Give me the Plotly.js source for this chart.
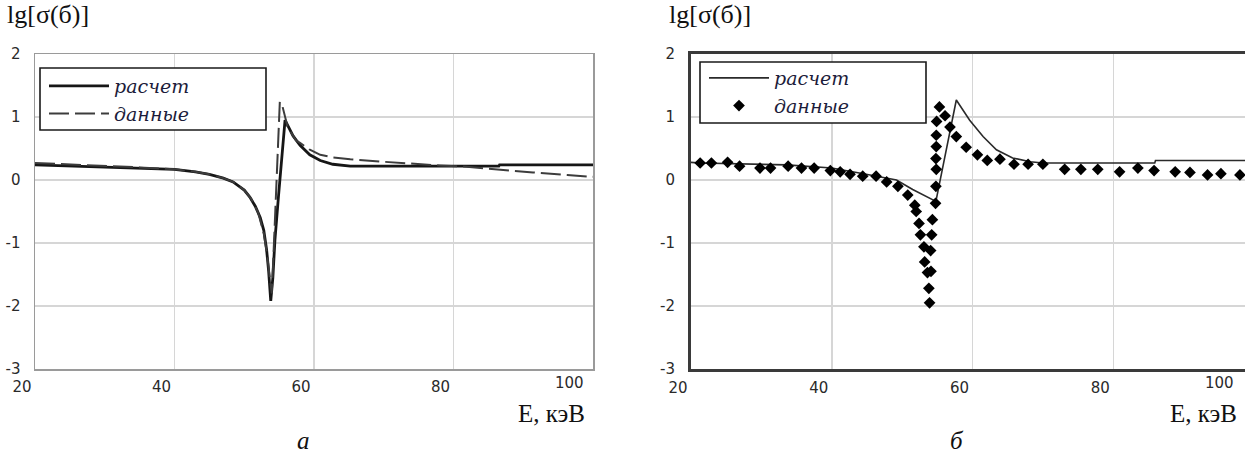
<!DOCTYPE html>
<html>
<head>
<meta charset="utf-8">
<script src="https://cdn.plot.ly/plotly-3.0.1.min.js"></script>
<style>
html,body{margin:0;padding:0;background:#fff;overflow:hidden;width:1245px;height:457px;}
#chart{width:1262px;height:457px;}
</style>
</head>
<body>
<div id="chart"></div>
<script>
// ---- Data: panel (а) ----
const calcA_E = [20,25,30,35,40,43,45,47,48.4,50,50.8,51.6,52.3,52.8,53.2,53.5,53.8,54.1,54.4,54.9,55.4,55.85,57,58,59.4,60.9,62.7,65.2,80,86.5,86.6,100];
const calcA_lg = [0.24,0.22,0.21,0.19,0.17,0.13,0.09,0.03,-0.03,-0.16,-0.27,-0.42,-0.6,-0.8,-1.1,-1.45,-1.92,-1.55,-0.95,-0.27,0.43,0.95,0.70,0.55,0.40,0.31,0.25,0.22,0.22,0.22,0.24,0.24];
const dataA_E = [20,25,30,35,40,43,45,47,48.4,50,51,52,52.8,53.3,53.7,53.95,54.3,54.7,55.1,55.5,56.2,57.4,58,59.4,60.9,62.7,65.2,69.9,74.8,78,81.9,86.7,91.4,96.3,100];
const dataA_lg = [0.27,0.25,0.23,0.20,0.17,0.13,0.09,0.03,-0.03,-0.16,-0.3,-0.52,-0.85,-1.2,-1.6,-1.8,-0.9,0.2,1.24,1.16,0.85,0.63,0.59,0.48,0.40,0.36,0.33,0.29,0.25,0.23,0.21,0.16,0.12,0.08,0.05];

// ---- Data: panel (б) ----
const calcB_E = [20,21.3,33.6,40,44.5,47,49.2,51.5,53.9,54.8,57.7,59.6,61.5,63.4,65.7,68.2,70,85.9,86.0,100];
const calcB_lg = [0.28,0.27,0.24,0.19,0.10,0.05,0.0,-0.15,-0.29,-0.34,1.27,0.95,0.69,0.48,0.35,0.29,0.27,0.27,0.31,0.31];
const dataB_E = [21.3,22.9,25.2,26.9,29.8,31.3,33.8,35.7,37.5,39.8,41.2,42.6,44.4,46.3,47.8,49.4,50.8,51.8,52.0,52.4,52.6,53.1,53.2,53.6,53.8,53.9,
  54.1,54.05,54.2,54.3,54.75,54.8,54.85,54.8,54.85,54.85,54.9,55.3,56.1,56.8,57.7,59.1,60.7,62.1,63.9,65.9,67.9,70.0,73.1,75.4,77.8,80.9,83.5,85.8,88.8,90.9,93.4,95.3,98.0];
const dataB_lg = [0.27,0.27,0.28,0.22,0.19,0.19,0.22,0.19,0.19,0.15,0.13,0.09,0.06,0.06,-0.03,-0.1,-0.24,-0.4,-0.5,-0.69,-0.87,-1.06,-1.3,-1.47,-1.72,-1.95,
  -1.45,-1.12,-0.87,-0.63,-0.37,-0.1,0.17,0.34,0.53,0.71,0.93,1.16,1.02,0.84,0.69,0.52,0.40,0.31,0.33,0.25,0.25,0.25,0.17,0.17,0.17,0.13,0.19,0.15,0.13,0.12,0.08,0.10,0.08];

const xGrid = [20,40,60,80,100];
const xTicks = [20,40,60,80];      // last label (100) is placed as an axis-anchored annotation
const xLastTick = 100;
const yTicks = [-3,-2,-1,0,1,2];
const seriesNames = ['расчет','данные'];

// ---- Layout helpers (pixel -> paper) ----
const W = 1262, H = 457;
const px = v => v / W;
const py = v => (H - v) / H;

const tickFont = {family:'DejaVu Sans, Verdana, sans-serif', size:15, color:'#2a2a2a'};
const legFont = {family:'DejaVu Serif, serif', size:19, color:'#1c1c3a', style:'italic'};
const serif = 'Liberation Serif, Times New Roman, serif';

function xax(dom, anchor, lc, lw){
  return {domain:dom, anchor:anchor, range:[20,100], tickvals:xTicks, ticktext:xTicks.map(String),
    showgrid:true, gridcolor:'#d6d6d6', gridwidth:1.5, zeroline:false,
    minor:{tickvals:xGrid, showgrid:true, gridcolor:'#d6d6d6', gridwidth:1.5, ticks:''},
    showline:true, linecolor:lc, linewidth:lw, mirror:true, ticks:'',
    tickfont:tickFont, ticklabelshift:-13, ticklabelstandoff:3, fixedrange:true};
}
function yax(anchor, lc, lw){
  return {domain:[py(369), py(54)], anchor:anchor, range:[-3,2], tickvals:yTicks, ticktext:yTicks.map(String),
    showgrid:true, gridcolor:'#d6d6d6', gridwidth:1.5, zeroline:false,
    showline:true, linecolor:lc, linewidth:lw, mirror:true, ticks:'',
    tickfont:tickFont, ticklabelstandoff:10, fixedrange:true};
}

const traces = [
  {x:calcA_E, y:calcA_lg, name:seriesNames[0], type:'scatter', mode:'lines', xaxis:'x', yaxis:'y', legend:'legend',
   line:{color:'#161616', width:2.8}},
  {x:dataA_E, y:dataA_lg, name:seriesNames[1], type:'scatter', mode:'lines', xaxis:'x', yaxis:'y', legend:'legend',
   line:{color:'#3c3c3c', width:2, dash:'20px,6px'}},
  {x:calcB_E, y:calcB_lg, name:seriesNames[0], type:'scatter', mode:'lines', xaxis:'x2', yaxis:'y2', legend:'legend2',
   line:{color:'#2a2a2a', width:1.6}},
  {x:dataB_E, y:dataB_lg, name:seriesNames[1], type:'scatter', mode:'markers', xaxis:'x2', yaxis:'y2', legend:'legend2',
   marker:{color:'#000', size:9, symbol:'diamond'}}
];

const legCommon = {xanchor:'left', yanchor:'top', bgcolor:'rgba(0,0,0,0)', borderwidth:0, font:legFont,
  itemwidth:60, tracegroupgap:0, itemclick:false, itemdoubleclick:false};

const yAx = yax('x', '#9a9a9a', 1.5);
const yAx2 = yax('x2', '#3a3a3a', 3);
yAx2.mirror = false; // right edge of panel б is cut off in the original

const layout = {
  width:W, height:H, margin:{l:0,r:0,t:0,b:0},
  paper_bgcolor:'#fff', plot_bgcolor:'#fff', showlegend:true,
  xaxis: xax([px(35), px(593)], 'y', '#9a9a9a', 1.5),
  yaxis: yAx,
  xaxis2: xax([px(691), px(1254)], 'y2', '#3a3a3a', 3),
  yaxis2: yAx2,
  legend: Object.assign({x:px(44), y:py(67)}, legCommon),
  legend2: Object.assign({x:px(704), y:py(59)}, legCommon),
  shapes:[
    {type:'rect', xref:'paper', yref:'paper', x0:px(40), x1:px(266), y0:py(130), y1:py(68),
     line:{color:'#1a1a1a', width:1.6}, fillcolor:'#fff', layer:'above'},
    {type:'rect', xref:'paper', yref:'paper', x0:px(700), x1:px(926), y0:py(123), y1:py(62),
     line:{color:'#1a1a1a', width:1.6}, fillcolor:'#fff', layer:'above'}
  ],
  annotations:[
    {text:String(xLastTick), xref:'x', yref:'paper', x:xLastTick, y:py(383), xshift:-24, xanchor:'center', yanchor:'middle',
     showarrow:false, font:tickFont},
    {text:String(xLastTick), xref:'x2', yref:'paper', x:xLastTick, y:py(383), xshift:-35, xanchor:'center', yanchor:'middle',
     showarrow:false, font:tickFont},
    {text:'lg[σ(б)]', xref:'paper', yref:'paper', x:px(5), y:py(15), xanchor:'left', yanchor:'middle', showarrow:false,
     font:{family:serif, size:26, color:'#111'}},
    {text:'lg[σ(б)]', xref:'paper', yref:'paper', x:px(667), y:py(15), xanchor:'left', yanchor:'middle', showarrow:false,
     font:{family:serif, size:26, color:'#111'}},
    {text:'E, кэВ', xref:'paper', yref:'paper', x:px(587), y:py(413), xanchor:'right', yanchor:'middle', showarrow:false,
     font:{family:serif, size:25, color:'#111'}},
    {text:'E, кэВ', xref:'paper', yref:'paper', x:px(1239), y:py(413), xanchor:'right', yanchor:'middle', showarrow:false,
     font:{family:serif, size:25, color:'#111'}},
    {text:'а', xref:'paper', yref:'paper', x:px(303), y:py(440), xanchor:'center', yanchor:'middle', showarrow:false,
     font:{family:serif, size:25, color:'#111', style:'italic'}},
    {text:'б', xref:'paper', yref:'paper', x:px(957), y:py(440), xanchor:'center', yanchor:'middle', showarrow:false,
     font:{family:serif, size:25, color:'#111', style:'italic'}}
  ]
};

Plotly.newPlot('chart', traces, layout, {staticPlot:true, displayModeBar:false});
</script>
</body>
</html>
